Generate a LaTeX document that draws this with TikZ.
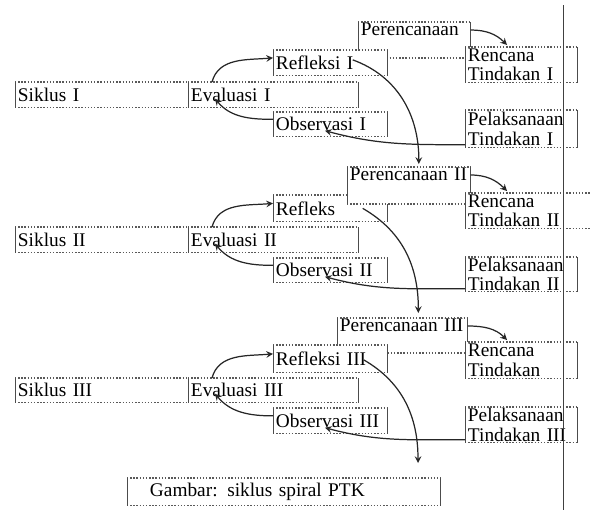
\documentclass[tikz,border=0pt]{standalone}
\usepackage{fontspec}
\setmainfont{Liberation Serif}
\newcommand{\px}{0.2mm}
\tikzset{
  side/.style={draw=black!70, line width=0.5pt},
  rim/.style={draw=black!65, densely dotted, line width=0.8pt},
  box/.style={anchor=north west, fill=white, inner xsep=1.5pt, inner ysep=0pt,
    align=left, font=\fontsize{11}{11}\selectfont,
    append after command={
      (\tikzlastnode.north west) edge[rim] (\tikzlastnode.north east)
      (\tikzlastnode.south west) edge[rim] (\tikzlastnode.south east)
      (\tikzlastnode.north west) edge[side] (\tikzlastnode.south west)
      (\tikzlastnode.north east) edge[side] (\tikzlastnode.south east)}},
  wh/.style 2 args={minimum width=#1*\px, text width=#1*\px-3pt, minimum height=#2*\px},
  tall/.style={text height=7.5pt, text depth=#1*\px},
  arr/.style={->, line width=0.7pt, black!85},
}
\begin{document}
\begin{tikzpicture}[>=stealth, x=\px, y=\px]
        \useasboundingbox (0,0) rectangle (590,-510);

        % Siklus I
        \node[box, wh={112}{35}, tall=22] (planA) at (358,-22) {Perencanaan};
        \node[box, wh={114}{25}] (reflA) at (273,-50) {Refleksi I};
        \node[box, wh={173}{25}] (siklusA) at (15,-82) {Siklus I};
        \node[box, wh={170}{25}] (evalA) at (188,-82) {Evaluasi I};
        \node[box, wh={114}{24}] (obsA) at (273,-112) {Observasi I};
        \node[box, wh={112}{35}] (rencA) at (465,-47) {Rencana\\Tindakan I};
        \node[box, wh={112}{37}] (pelA) at (465,-110) {Pelaksanaan\\Tindakan I};

        % Siklus II
        \node[box, wh={114}{26}] (reflB) at (273,-195) {Refleks};
        \node[box, wh={123}{36}, tall=23] (planB) at (347,-167) {Perencanaan II};
        \node[box, wh={173}{25}] (siklusB) at (15,-227) {Siklus II};
        \node[box, wh={170}{25}] (evalB) at (188,-227) {Evaluasi II};
        \node[box, wh={114}{24}] (obsB) at (273,-258) {Observasi II};
        \node[box, wh={140}{35}] (rencB) at (465,-193) {Rencana\\Tindakan II};
        \node[box, wh={112}{34}] (pelB) at (465,-257) {Pelaksanaan\\Tindakan II};

        % Siklus III
        \node[box, wh={130}{34}, tall=21] (planC) at (337,-318) {Perencanaan III};
        \node[box, wh={114}{27}] (reflC) at (273,-345) {Refleksi III};
        \node[box, wh={173}{24}] (siklusC) at (15,-378) {Siklus III};
        \node[box, wh={170}{24}] (evalC) at (188,-378) {Evaluasi III};
        \node[box, wh={114}{25}] (obsC) at (273,-408) {Observasi III};
        \node[box, wh={112}{36}] (rencC) at (465,-342) {Rencana\\Tindakan};
        \node[box, wh={112}{35}] (pelC) at (465,-407) {Pelaksanaan\\Tindakan III};

        \node[box, wh={313}{27}] (gambar) at (127,-478) {\hspace*{4mm}Gambar: siklus spiral PTK};

        % arrows inside each cycle
        \foreach \c in {A,B,C} {
            \draw[arr] ([shift={(24,0)}]eval\c.north west) to[out=75,in=185] ([shift={(0,5)}]refl\c.west);
            \draw[arr] ([shift={(0,5)}]obs\c.west) to[out=180,in=-50] ([shift={(27,9)}]eval\c.south west);
            \draw[arr] ([shift={(0,3)}]pel\c.south west) to[out=180,in=-15] ([shift={(52,6)}]obs\c.south west);
            \draw[arr] ([shift={(0,-8)}]plan\c.north east) to[out=0,in=135] ([shift={(42,2)}]renc\c.north west);
        }

        % from one cycle to the next
        \draw[arr] ([shift={(-35,3)}]reflA.east) to[out=-20,in=90] ([shift={(10,3)}]planB.north);
        \draw[arr] ([shift={(-25,0)}]reflB.east) to[out=-30,in=90] ([shift={(16,5)}]planC.north);
        \draw[arr] ([shift={(-24,-1)}]reflC.east) to[out=-30,in=90] ([shift={(291,15)}]gambar.north west);

        % page margin line
        \draw[black!75, line width=0.5pt] (563,-5) -- (563,-510);
\end{tikzpicture}
\end{document}
